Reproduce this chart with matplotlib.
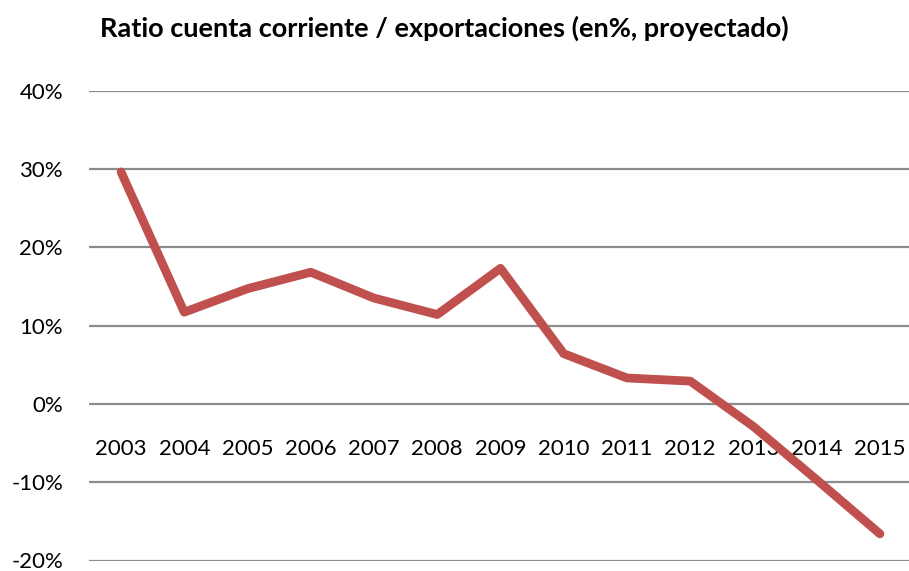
import matplotlib
matplotlib.use("Agg")
import matplotlib.pyplot as plt
from matplotlib.ticker import FuncFormatter

years = ["2003", "2004", "2005", "2006", "2007", "2008", "2009",
         "2010", "2011", "2012", "2013", "2014", "2015"]
ratio = [29.6, 11.7, 14.7, 16.8, 13.5, 11.4, 17.3,
         6.4, 3.3, 2.9, -2.9, -9.7, -16.6]
y_ticks = [-20, -10, 0, 10, 20, 30, 40]

plt.rcParams['font.family'] = ['Lato', 'DejaVu Sans']

W, H = 909, 571
fig = plt.figure(figsize=(W / 100, H / 100), dpi=100)
left, right = 89.4, 911.6
top, bottom = 90.5, 560.5
ax = fig.add_axes([left / W, (H - bottom) / H, (right - left) / W, (bottom - top) / H])

x = list(range(len(years)))
ax.plot(x, ratio, color="#C0504D", linewidth=6.3, solid_joinstyle="round",
        solid_capstyle="round", zorder=3)

ax.set_xlim(-0.5, len(years) - 0.5)
ax.set_ylim(-20, 40)
ax.set_yticks(y_ticks)
ax.yaxis.set_major_formatter(FuncFormatter(lambda v, p: f"{int(v)}%"))
ax.yaxis.grid(True, color="#8C8C8C", linewidth=1.6, zorder=1)
ax.set_axisbelow(True)

ax.set_xticks(x)
ax.set_xticklabels(years)
ax.spines['bottom'].set_position(('data', 0))
for s in ['top', 'right', 'left', 'bottom']:
    ax.spines[s].set_visible(False)
ax.tick_params(axis='x', length=0, pad=25, labelsize=16, colors="#000000")
ax.tick_params(axis='y', length=0, pad=19, labelsize=16, colors="#000000")

fig.text(444 / W, 1 - 28 / H, "Ratio cuenta corriente / exportaciones (en%, proyectado)",
         ha="center", va="center", fontsize=19.5, fontweight="bold")

fig.savefig("out.png", dpi=100)
